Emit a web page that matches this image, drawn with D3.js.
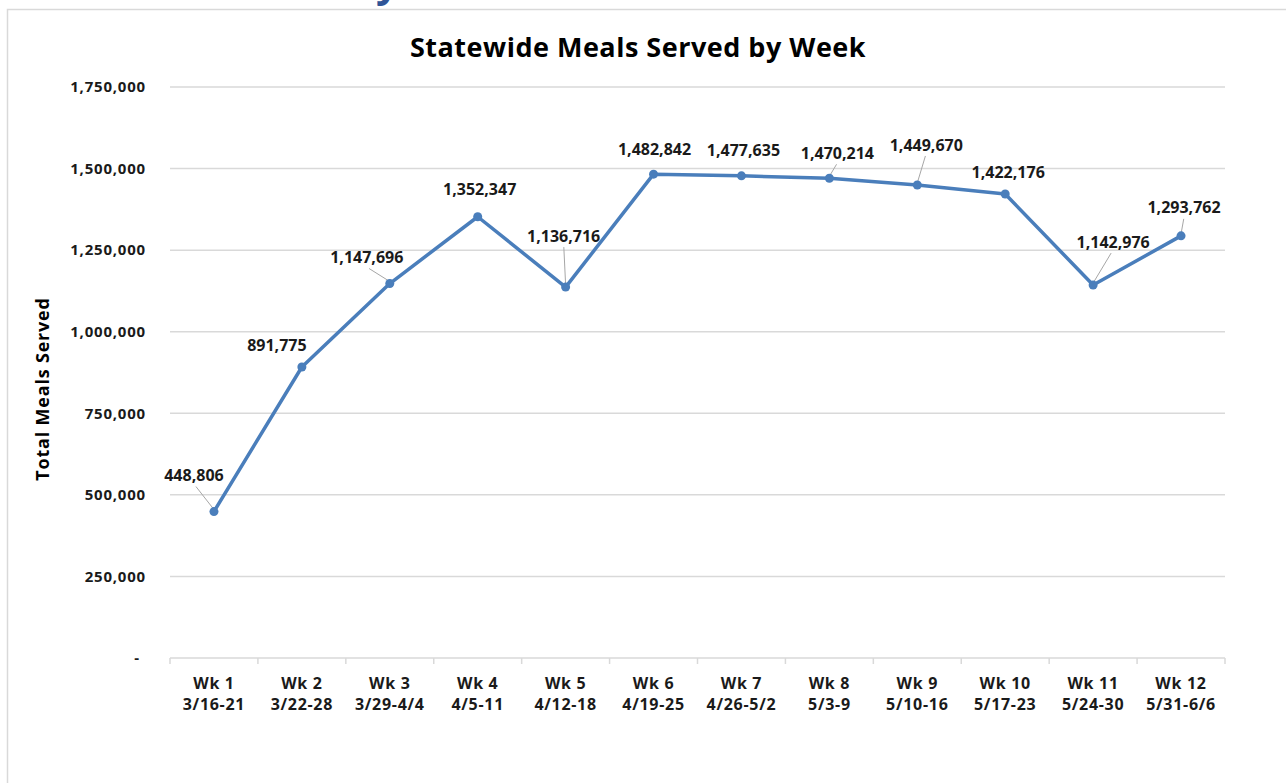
<!DOCTYPE html>
<html>
<head>
<meta charset="utf-8">
<script src="https://cdn.jsdelivr.net/npm/d3@7"></script>
<style>
  html, body { margin: 0; padding: 0; background: #fff; }
  svg { display: block; }
  text { font-family: "Open Sans", Lato, sans-serif; font-weight: bold; fill: #1a1a1a; }
</style>
</head>
<body>
<svg id="chart" width="1286" height="783"></svg>
<script>
// ---- data ----
const weeks = ["Wk 1","Wk 2","Wk 3","Wk 4","Wk 5","Wk 6","Wk 7","Wk 8","Wk 9","Wk 10","Wk 11","Wk 12"];
const dateRanges = ["3/16-21","3/22-28","3/29-4/4","4/5-11","4/12-18","4/19-25","4/26-5/2","5/3-9","5/10-16","5/17-23","5/24-30","5/31-6/6"];
const mealsServed = [448806, 891775, 1147696, 1352347, 1136716, 1482842, 1477635, 1470214, 1449670, 1422176, 1142976, 1293762];
const yTicks = [0, 250000, 500000, 750000, 1000000, 1250000, 1500000, 1750000];

// label placement (px offsets from point to label centre; leader line shown or not)
const labelOffsets = [
  {dx:-20, dy:-36, leader:true},
  {dx:-25, dy:-22, leader:false},
  {dx:-23, dy:-26, leader:true},
  {dx:2,   dy:-27, leader:false},
  {dx:-2,  dy:-51, leader:true},
  {dx:1,   dy:-25, leader:false},
  {dx:2,   dy:-25, leader:false},
  {dx:8,   dy:-25, leader:true},
  {dx:9,   dy:-40, leader:true},
  {dx:3,   dy:-22, leader:false},
  {dx:20,  dy:-43, leader:true},
  {dx:3,   dy:-28, leader:true}
];

const svg = d3.select("#chart");
const W = 1286, H = 783;
const m = {left:170, right:1225, top:87, bottom:658};

// frame
svg.append("path")
  .attr("d", `M7.5,${H} V9.5 H${W}`)
  .attr("fill", "none").attr("stroke", "#d9d9d9").attr("stroke-width", 1.5);

// clipped blue glyph from a heading above the frame
svg.append("text").attr("x", 376).attr("y", -3)
  .style("font-size", "40px").style("fill", "#2f5597")
  .text("y");

const x = d3.scaleBand().domain(weeks).range([m.left, m.right]);
const y = d3.scaleLinear().domain([0, 1750000]).range([m.bottom, m.top]);

// gridlines
svg.append("g").selectAll("line").data(yTicks.filter(d => d > 0)).join("line")
  .attr("x1", m.left).attr("x2", m.right)
  .attr("y1", d => y(d)).attr("y2", d => y(d))
  .attr("stroke", "#d9d9d9").attr("stroke-width", 1.5);

// y axis labels
const yAxis = d3.axisLeft(y).tickValues(yTicks).tickSize(0).tickPadding(0)
  .tickFormat(d => d === 0 ? "-" : d3.format(",")(d));
const gy = svg.append("g").attr("transform", `translate(146,0)`).call(yAxis);
gy.select(".domain").remove();
gy.selectAll("text").style("font-size", "15px").style("fill", "#1a1a1a")
  .style("font-family", "'Open Sans', sans-serif").style("font-weight", "bold")
  .style("letter-spacing", "0.8px")
  .attr("dx", d => d === 0 ? -6 : 0);

// x axis
const gx = svg.append("g").attr("transform", `translate(0,${m.bottom})`);
gx.append("line").attr("x1", m.left).attr("x2", m.right).attr("y1", 0).attr("y2", 0)
  .attr("stroke", "#d9d9d9").attr("stroke-width", 1.5);
const bounds = weeks.map(w => x(w)).concat([m.right]);
gx.selectAll("line.tk").data(bounds).join("line").attr("class", "tk")
  .attr("x1", d => d).attr("x2", d => d).attr("y1", 0).attr("y2", 6)
  .attr("stroke", "#d9d9d9").attr("stroke-width", 1.5);
const xl = gx.selectAll("text.xl").data(weeks).join("text").attr("class", "xl")
  .attr("text-anchor", "middle")
  .attr("transform", d => `translate(${x(d) + x.bandwidth()/2},0)`)
  .style("font-size", "16px").style("letter-spacing", "0.7px");
xl.append("tspan").attr("x", 0).attr("y", 31).text(d => d);
xl.append("tspan").attr("x", 0).attr("y", 52).text((d, i) => dateRanges[i]);

// title
svg.append("text").attr("x", 638).attr("y", 57).attr("text-anchor", "middle")
  .style("font-size", "27px").style("letter-spacing", "0.5px").style("fill", "#000")
  .text("Statewide Meals Served by Week");

// y title
svg.append("text").attr("transform", "translate(49,389) rotate(-90)")
  .attr("text-anchor", "middle").style("font-size", "18px").style("letter-spacing", "0.8px")
  .style("fill", "#000")
  .text("Total Meals Served");

const cx = i => x(weeks[i]) + x.bandwidth()/2;
const idx = d3.range(mealsServed.length);

// leader lines
svg.append("g").selectAll("line").data(idx.filter(i => labelOffsets[i].leader)).join("line")
  .attr("x1", i => cx(i) + labelOffsets[i].dx * 0.9)
  .attr("y1", i => y(mealsServed[i]) + labelOffsets[i].dy + 11)
  .attr("x2", i => cx(i))
  .attr("y2", i => y(mealsServed[i]) - 2)
  .attr("stroke", "#a6a6a6").attr("stroke-width", 1);

// line
const line = d3.line().x((d, i) => cx(i)).y(d => y(d));
svg.append("path").datum(mealsServed).attr("d", line)
  .attr("fill", "none").attr("stroke", "#4a7ebb").attr("stroke-width", 3.5)
  .attr("stroke-linejoin", "round");

svg.append("g").selectAll("circle").data(mealsServed).join("circle")
  .attr("cx", (d, i) => cx(i)).attr("cy", d => y(d)).attr("r", 4.5).attr("fill", "#4a7ebb");

// data labels
svg.append("g").selectAll("text").data(mealsServed).join("text")
  .attr("x", (d, i) => cx(i) + labelOffsets[i].dx)
  .attr("y", (d, i) => y(d) + labelOffsets[i].dy)
  .attr("dy", "0.35em").attr("text-anchor", "middle")
  .style("font-size", "16px")
  .text(d => d3.format(",")(d));
</script>
</body>
</html>
